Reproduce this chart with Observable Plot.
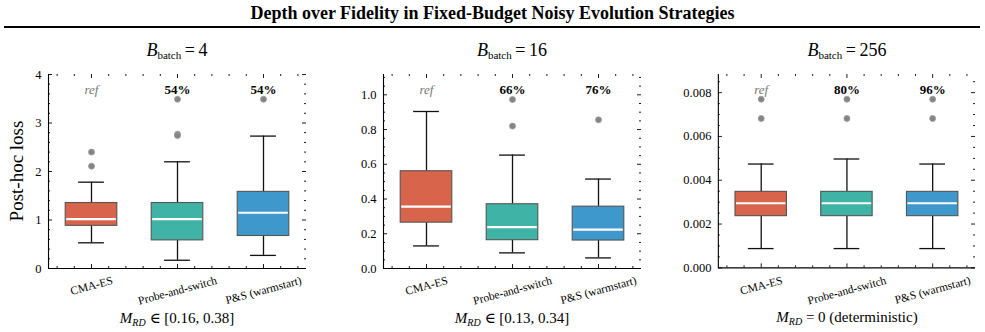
<!DOCTYPE html>
<html>
<head>
<meta charset="utf-8">
<script src="https://cdn.jsdelivr.net/npm/d3@7"></script>
<script src="https://cdn.jsdelivr.net/npm/@observablehq/plot@0.6"></script>
<style>
  html, body { margin: 0; padding: 0; background: #fff; }
  #fig { position: relative; width: 985px; height: 332px; font-family: "Liberation Serif", "DejaVu Serif", serif; color: #000; overflow: hidden; }
  #fig svg text { font-family: "Liberation Serif", "DejaVu Serif", serif !important; }
  #title { position: absolute; left: 0; width: 985px; top: 3px; text-align: center; font-weight: bold; font-size: 18px; }
  #rule { position: absolute; left: 4px; width: 976px; top: 26px; height: 0; border-top: 2px solid #000; }
  .panel { position: absolute; }
  .ptitle { position: absolute; text-align: center; font-size: 18px; top: 40px; }
  .ptitle sub { font-size: 11px; vertical-align: -3px; }
  .caption { position: absolute; text-align: center; font-size: 15px; top: 309px; }
  .caption sub { font-size: 10px; vertical-align: -3px; }
  #ylabel { position: absolute; left: 17px; top: 171px; font-size: 19px; transform: translate(-50%, -50%) rotate(-90deg); white-space: nowrap; }
</style>
</head>
<body>
<div id="fig">
  <div id="title">Depth over Fidelity in Fixed-Budget Noisy Evolution Strategies</div>
  <div id="rule"></div>
  <div id="ylabel">Post-hoc loss</div>
</div>
<script>
// Methods compared in every panel, and their box colours
const methods = ["CMA-ES", "Probe-and-switch", "P&S (warmstart)"];
const methodColors = ["#d8654b", "#3fb3a6", "#3e98cc"];

// One panel per batch size
const batchSizes = [4, 16, 256];
const mrdCaptions = ["∈ [0.16, 0.38]", "∈ [0.13, 0.34]", "= 0 (deterministic)"];
const winLabels = [["ref", "54%", "54%"], ["ref", "66%", "76%"], ["ref", "80%", "96%"]];

// Box-plot summaries of the post-hoc loss (per panel, per method)
const whiskerLow  = [[0.53, 0.17, 0.27], [0.13, 0.09, 0.061], [0.00088, 0.00088, 0.00088]];
const quartile1   = [[0.88, 0.58, 0.67], [0.264, 0.163, 0.161], [0.00236, 0.00236, 0.00236]];
const medians     = [[1.02, 1.02, 1.15], [0.356, 0.238, 0.224], [0.00295, 0.00295, 0.00295]];
const quartile3   = [[1.35, 1.35, 1.58], [0.56, 0.37, 0.356], [0.00347, 0.00347, 0.00347]];
const whiskerHigh = [[1.78, 2.20, 2.73], [0.904, 0.653, 0.515], [0.00474, 0.00497, 0.00474]];
const fliers = [
  [[2.40, 2.11], [3.49, 2.77, 2.74], [3.49]],
  [[], [0.973, 0.82], [0.856]],
  [[0.0077, 0.00682], [0.0077, 0.00682], [0.0077, 0.00682]]
];

// Axis limits and tick spacing per panel
const yMax = [4, 1.117, 0.00883];
const yMajorStep = [1, 0.2, 0.002];
const yMinorStep = [0.2, 0.05, 0.0005];
const yTickFormat = ["d", ".1f", ".3f"];

// Layout
const frameLefts = [48, 383, 718];
const frameTop = 74, frameW = 258, frameH = 194;
const mL = 50, mR = 10, mT = 10, mB = 60;
const boxHalf = 0.3, capHalf = 0.15;

const fig = document.getElementById("fig");

function ticksBetween(lo, hi, step) {
  const n = Math.floor((hi - lo) / step + 1e-6);
  return d3.range(n + 1).map(k => +(lo + k * step).toPrecision(10));
}

batchSizes.forEach((B, p) => {
  const rows = methods.map((m, i) => ({
    method: m, pos: i, color: methodColors[i],
    lo: whiskerLow[p][i], q1: quartile1[p][i], med: medians[p][i],
    q3: quartile3[p][i], hi: whiskerHigh[p][i], label: winLabels[p][i]
  }));
  const flierRows = rows.flatMap((r, i) => fliers[p][i].map(v => ({pos: r.pos, v})));

  const yMajor = ticksBetween(0, yMax[p], yMajorStep[p]);
  const yMinor = ticksBetween(0, yMax[p], yMinorStep[p])
    .filter(v => !yMajor.some(t => Math.abs(t - v) < yMinorStep[p] / 10));
  const xMajor = [0, 1, 2];
  const xMinor = ticksBetween(-0.4, 2.4, 0.2).filter(v => Math.abs(v - Math.round(v)) > 0.05);
  const labelY = yMax[p] * 0.92;

  const plot = Plot.plot({
    width: frameW + mL + mR,
    height: frameH + mT + mB,
    marginLeft: mL, marginRight: mR, marginTop: mT, marginBottom: mB,
    style: {fontFamily: "Liberation Serif, DejaVu Serif, serif", fontSize: "12.5px", background: "transparent", color: "#000"},
    x: {domain: [-0.5, 2.5], axis: null},
    y: {domain: [0, yMax[p]], axis: null},
    color: {type: "identity"},
    marks: [
      Plot.axisY({ticks: yMajor, tickSize: 0, tickPadding: 7, tickFormat: d3.format(yTickFormat[p]), label: null, fontSize: 12.5}),
      // inward ticks on all four sides
      Plot.tickY(yMajor, {insetRight: frameW - 4, stroke: "#000", strokeWidth: 0.9}),
      Plot.tickY(yMinor, {insetRight: frameW - 2, stroke: "#000", strokeWidth: 0.9}),
      Plot.tickY(yMajor, {insetLeft: frameW - 4, stroke: "#000", strokeWidth: 0.9}),
      Plot.tickY(yMinor, {insetLeft: frameW - 2, stroke: "#000", strokeWidth: 0.9}),
      Plot.tickX(xMajor, {insetTop: frameH - 4, stroke: "#000", strokeWidth: 0.9}),
      Plot.tickX(xMinor, {insetTop: frameH - 2, stroke: "#000", strokeWidth: 0.9}),
      Plot.tickX(xMajor, {insetBottom: frameH - 4, stroke: "#000", strokeWidth: 0.9}),
      Plot.tickX(xMinor, {insetBottom: frameH - 2, stroke: "#000", strokeWidth: 0.9}),
      // left and bottom spines
      Plot.ruleX([-0.5], {stroke: "#000", strokeWidth: 1.1}),
      Plot.ruleY([0], {stroke: "#000", strokeWidth: 1.1}),
      // whiskers and caps
      Plot.ruleX(rows, {x: "pos", y1: "q3", y2: "hi", stroke: "#111", strokeWidth: 1.3}),
      Plot.ruleX(rows, {x: "pos", y1: "lo", y2: "q1", stroke: "#111", strokeWidth: 1.3}),
      Plot.ruleY(rows, {x1: d => d.pos - capHalf, x2: d => d.pos + capHalf, y: "hi", stroke: "#111", strokeWidth: 1.3}),
      Plot.ruleY(rows, {x1: d => d.pos - capHalf, x2: d => d.pos + capHalf, y: "lo", stroke: "#111", strokeWidth: 1.3}),
      // boxes and medians
      Plot.rect(rows, {x1: d => d.pos - boxHalf, x2: d => d.pos + boxHalf, y1: "q1", y2: "q3", fill: "color", stroke: "#555", strokeWidth: 1.1}),
      Plot.ruleY(rows, {x1: d => d.pos - boxHalf, x2: d => d.pos + boxHalf, y: "med", stroke: "#fff", strokeWidth: 2.2, insetLeft: 1, insetRight: 1}),
      // outliers
      Plot.dot(flierRows, {x: "pos", y: "v", r: 3, fill: "#858585", stroke: "#9a9a9a", strokeWidth: 0.8}),
      // win-rate annotations
      Plot.text(rows.filter(d => d.label === "ref"), {x: "pos", y: () => labelY, text: "label", fill: "#777", fontStyle: "italic", fontSize: 13}),
      Plot.text(rows.filter(d => d.label !== "ref"), {x: "pos", y: () => labelY, text: "label", fill: "#000", fontWeight: "bold", fontSize: 13}),
      // rotated method names
      Plot.text(rows, {x: "pos", y: () => 0, text: "method", rotate: -15, fontSize: 11.5, textAnchor: "middle", lineAnchor: "middle"})
    ]
  });

  const holder = document.createElement("div");
  holder.className = "panel";
  holder.style.left = (frameLefts[p] - mL) + "px";
  holder.style.top = (frameTop - mT) + "px";
  holder.appendChild(plot);
  fig.appendChild(holder);

  // push each rotated label down so its bounding box starts just below the axis
  const frameBottom = frameTop + frameH;
  plot.querySelectorAll("text").forEach(t => {
    if (!methods.includes(t.textContent)) return;
    const r = t.getBoundingClientRect();
    const dy = (frameBottom + 6) - r.top;
    const prev = t.getAttribute("transform") || "";
    t.setAttribute("transform", `translate(0,${dy.toFixed(2)}) ${prev}`);
  });

  const title = document.createElement("div");
  title.className = "ptitle";
  title.style.left = frameLefts[p] + "px";
  title.style.width = frameW + "px";
  title.innerHTML = `<i>B</i><sub>batch</sub>&#8201;=&#8201;${B}`;
  fig.appendChild(title);

  const cap = document.createElement("div");
  cap.className = "caption";
  cap.style.left = frameLefts[p] + "px";
  cap.style.width = frameW + "px";
  cap.innerHTML = `<i>M</i><sub><i>RD</i></sub> ${mrdCaptions[p]}`;
  fig.appendChild(cap);
});
</script>
</body>
</html>
